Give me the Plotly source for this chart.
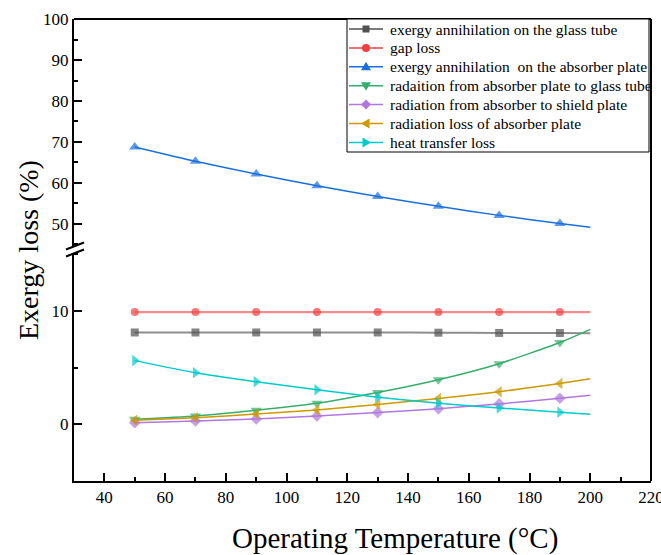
import plotly.graph_objects as go

# ---- data ----
temperature = [50, 70, 90, 110, 130, 150, 170, 190, 200]
glass_tube = [8.1, 8.1, 8.1, 8.1, 8.1, 8.08, 8.06, 8.05, 8.04]
gap_loss = [9.9, 9.9, 9.9, 9.9, 9.9, 9.9, 9.9, 9.9, 9.9]
absorber_plate = [68.8, 65.3, 62.2, 59.3, 56.7, 54.3, 52.1, 50.1, 49.2]
rad_plate_glass = [0.42, 0.71, 1.22, 1.84, 2.79, 3.92, 5.34, 7.21, 8.37]
rad_absorber_shield = [0.12, 0.27, 0.45, 0.71, 1.01, 1.36, 1.78, 2.28, 2.55]
rad_loss_plate = [0.33, 0.56, 0.89, 1.25, 1.72, 2.26, 2.85, 3.59, 4.00]
heat_transfer = [5.61, 4.54, 3.74, 3.03, 2.37, 1.84, 1.42, 1.04, 0.86]

names = [
    "exergy annihilation on the glass tube",
    "gap loss",
    "exergy annihilation  on the absorber plate",
    "radaition from absorber plate to glass tube",
    "radiation from absorber to shield plate",
    "radiation loss of absorber plate",
    "heat transfer loss",
]
x_ticks = [40, 60, 80, 100, 120, 140, 160, 180, 200, 220]
y_top_ticks = [50, 60, 70, 80, 90, 100]
y_bottom_ticks = [0, 10]

FONT = "Liberation Serif, Times New Roman, serif"
W_FIG, H_FIG = 661, 555
ML, MR, MT, MB = 74, 10, 19, 74
PW, PH = W_FIG - ML - MR, H_FIG - MT - MB


def px(xp):
    return (xp - ML) / PW


def py(yp):
    return (H_FIG - MB - yp) / PH


series = [
    (glass_tube, "#515151", "square", 8, "rgba(81,81,81,0.65)", 2, "y2"),
    (gap_loss, "#F14040", "circle", 8, "rgba(241,64,64,0.6)", 2.2, "y2"),
    (absorber_plate, "#1A6FDF", "triangle-up", 10, "#1A6FDF", 1.5, "y"),
    (rad_plate_glass, "#37AD6B", "triangle-down", 10, "#37AD6B", 1.5, "y2"),
    (rad_absorber_shield, "#B177DE", "diamond", 9, "#B177DE", 1.5, "y2"),
    (rad_loss_plate, "#CC9900", "triangle-left", 10, "#CC9900", 1.5, "y2"),
    (heat_transfer, "#00CBCC", "triangle-right", 10, "#00CBCC", 1.5, "y2"),
]

fig = go.Figure()
for (vals, col, sym, size, lcol, lw, yax), nm in zip(series, names):
    sizes = [size] * (len(temperature) - 1) + [0]
    fig.add_trace(go.Scatter(
        x=temperature, y=vals, name=nm, mode="lines+markers", yaxis=yax,
        showlegend=False,
        line=dict(color=lcol, width=lw, shape="spline", smoothing=0.6),
        marker=dict(symbol=sym, size=sizes, color=col, line=dict(width=0)),
    ))

axis_common = dict(
    showgrid=False, zeroline=False, showline=True, linecolor="black", linewidth=2,
    ticks="inside", ticklen=8, tickwidth=1.5, tickcolor="black", automargin=False,
    tickfont=dict(family=FONT, size=17, color="black"),
)
minor_common = dict(tick0=0, ticks="inside", ticklen=4, tickwidth=1.5, tickcolor="black")

# frame and axis-break decorations
shapes = [
    dict(type="line", xref="paper", yref="paper", x0=0, x1=1, y0=1, y1=1,
         line=dict(color="black", width=2)),
    dict(type="line", xref="paper", yref="paper", x0=1, x1=1, y0=0, y1=1,
         line=dict(color="black", width=2)),
]
top_dom_bottom = py(246)
bottom_dom_top = py(253)
for ya in (top_dom_bottom, bottom_dom_top):
    shapes.append(dict(type="line", xref="paper", yref="paper", xsizemode="pixel", ysizemode="pixel",
                       xanchor=0, yanchor=ya, x0=-8, x1=10, y0=-3.5, y1=3.5,
                       line=dict(color="black", width=2)))

# legend (drawn as layout decorations)
marker_paths = {
    "square": "M-3.5,-3.5 L3.5,-3.5 L3.5,3.5 L-3.5,3.5 Z",
    "triangle-up": "M-5,-3.5 L5,-3.5 L0,5 Z",
    "triangle-down": "M-5,3.5 L5,3.5 L0,-5 Z",
    "diamond": "M0,-5 L5,0 L0,5 L-5,0 Z",
    "triangle-left": "M3.5,-5 L3.5,5 L-5,0 Z",
    "triangle-right": "M-3.5,-5 L-3.5,5 L5,0 Z",
}
LEG_L, LEG_R, LEG_T, LEG_B = 347, 649, 19, 152
shapes.append(dict(type="rect", xref="paper", yref="paper",
                   x0=px(LEG_L), x1=px(LEG_R), y0=py(LEG_B), y1=py(LEG_T),
                   line=dict(color="black", width=1), fillcolor="white"))
annotations = []
for i, ((vals, col, sym, size, lcol, lw, yax), nm) in enumerate(zip(series, names)):
    yc = 29 + 18.9 * i
    shapes.append(dict(type="line", xref="paper", yref="paper",
                       x0=px(349), x1=px(383), y0=py(yc), y1=py(yc),
                       line=dict(color=col, width=1.5)))
    if sym == "circle":
        shapes.append(dict(type="circle", xref="paper", yref="paper", xsizemode="pixel",
                           ysizemode="pixel", xanchor=px(366), yanchor=py(yc),
                           x0=-4, x1=4, y0=-4, y1=4, fillcolor=col, line=dict(width=0)))
    else:
        shapes.append(dict(type="path", xref="paper", yref="paper", xsizemode="pixel",
                           ysizemode="pixel", xanchor=px(366), yanchor=py(yc),
                           path=marker_paths[sym], fillcolor=col, line=dict(width=0)))
    annotations.append(dict(text=nm, xref="paper", yref="paper", x=px(388), y=py(yc),
                            xanchor="left", yanchor="middle", showarrow=False,
                            font=dict(family=FONT, size=15.5, color="black")))

annotations += [
    dict(text="Exergy loss (%)", xref="paper", yref="paper", x=px(28), y=0.5,
         xanchor="center", yanchor="middle", textangle=-90, showarrow=False,
         font=dict(family=FONT, size=28, color="black")),
    dict(text="Operating Temperature (°C)", xref="paper", yref="paper", x=px(395), y=py(538),
         xanchor="center", yanchor="middle", showarrow=False,
         font=dict(family=FONT, size=29, color="black")),
]

fig.update_layout(
    width=W_FIG, height=H_FIG,
    margin=dict(l=ML, r=MR, t=MT, b=MB),
    plot_bgcolor="white", paper_bgcolor="white",
    showlegend=False,
    xaxis=dict(range=[30, 220], tickvals=x_ticks, anchor="y2", ticklabeloverflow="allow",
               minor=dict(dtick=10, **minor_common), **axis_common),
    yaxis=dict(domain=[top_dom_bottom, 1], range=[44.63, 100], tickvals=y_top_ticks, anchor="x",
               minor=dict(dtick=5, **minor_common), **axis_common),
    yaxis2=dict(domain=[0, bottom_dom_top], range=[-5.04, 15.13], tickvals=y_bottom_ticks, anchor="x",
                minor=dict(dtick=5, **minor_common), **axis_common),
    shapes=shapes,
    annotations=annotations,
)

fig.write_html("out.html", config={"displayModeBar": False},
               post_script="document.body.style.margin='0px';")
